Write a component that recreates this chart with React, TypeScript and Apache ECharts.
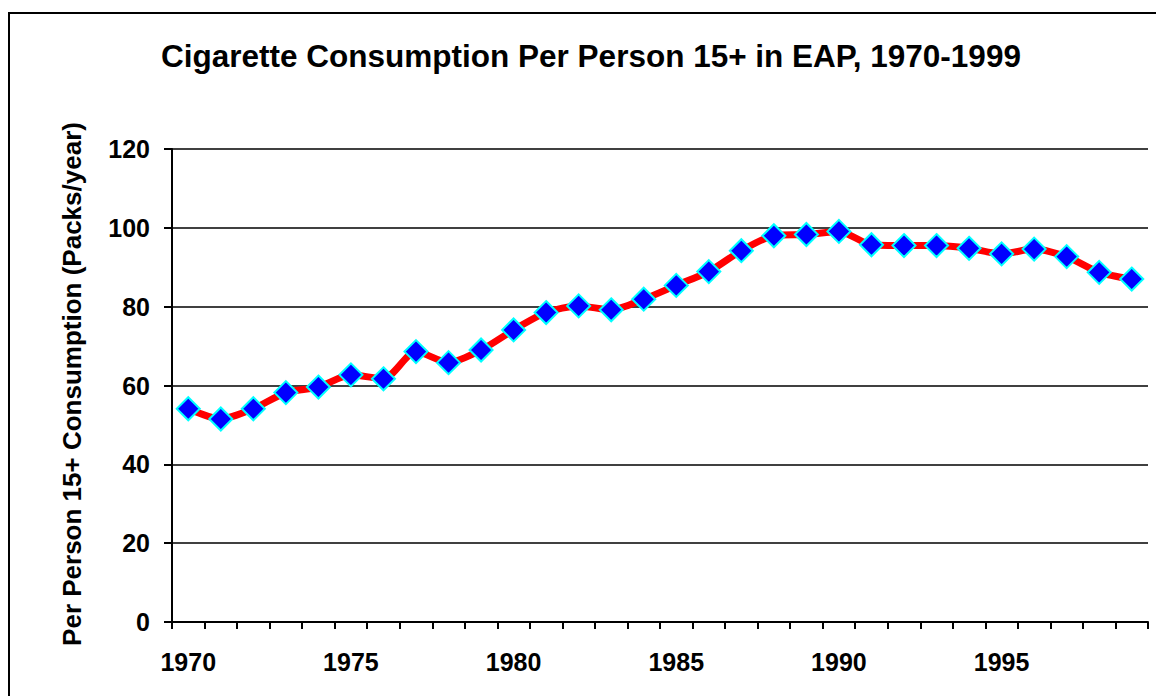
import React, { useEffect, useRef } from "react";
import * as echarts from "echarts";

const years: string[] = [
  "1970","1971","1972","1973","1974","1975","1976","1977","1978","1979",
  "1980","1981","1982","1983","1984","1985","1986","1987","1988","1989",
  "1990","1991","1992","1993","1994","1995","1996","1997","1998","1999",
];
const consumption: number[] = [
  54.1, 51.5, 54.1, 58.2, 59.6, 62.7, 61.7, 68.6, 65.8, 69.0,
  74.1, 78.5, 80.2, 79.2, 81.9, 85.4, 88.9, 94.2, 98.0, 98.3,
  99.1, 95.7, 95.5, 95.5, 94.8, 93.4, 94.6, 92.7, 88.7, 87.0,
];
const titleText = "Cigarette Consumption Per Person 15+ in EAP, 1970-1999";
const yAxisTitle = "Per Person 15+ Consumption (Packs/year)";

const FONT = "'Liberation Sans', Arial, sans-serif";

export default function App() {
  const ref = useRef<HTMLDivElement>(null);
  useEffect(() => {
    if (!ref.current) return;
    const chart = echarts.init(ref.current, null, { renderer: "svg" });
    chart.setOption({
      animation: false,
      backgroundColor: "#ffffff",
      graphic: [
        {
          type: "rect",
          shape: { x: 9, y: 13, width: 1200, height: 720 },
          style: { fill: "none", stroke: "#000", lineWidth: 2 },
          silent: true,
        },
        {
          type: "text",
          x: 591,
          y: 56,
          style: {
            text: titleText,
            font: `bold 31.5px ${FONT}`,
            fill: "#000",
            textAlign: "center",
            textVerticalAlign: "middle",
          },
        },
        {
          type: "text",
          x: 72,
          y: 384,
          rotation: Math.PI / 2,
          style: {
            text: yAxisTitle,
            font: `bold 26px ${FONT}`,
            fill: "#000",
            textAlign: "center",
            textVerticalAlign: "middle",
          },
        },
      ],
      grid: { left: 172, right: 8, top: 149, bottom: 74, containLabel: false },
      xAxis: {
        type: "category",
        data: years,
        boundaryGap: true,
        axisLine: { lineStyle: { color: "#000", width: 2 } },
        axisTick: { show: true, interval: 0, length: 7, lineStyle: { color: "#000", width: 2 } },
        axisLabel: {
          interval: 4,
          margin: 27,
          color: "#000",
          fontFamily: FONT,
          fontWeight: "bold",
          fontSize: 25,
        },
        splitLine: { show: false },
      },
      yAxis: {
        type: "value",
        min: 0,
        max: 120,
        interval: 20,
        axisLine: { show: true, lineStyle: { color: "#000", width: 2 } },
        axisTick: { show: true, length: 8, lineStyle: { color: "#000", width: 2 } },
        axisLabel: {
          margin: 22,
          color: "#000",
          fontFamily: FONT,
          fontWeight: "bold",
          fontSize: 25,
        },
        splitLine: { show: true, lineStyle: { color: "#000", width: 1.5 } },
      },
      series: [
        {
          type: "line",
          data: consumption,
          smooth: 0.25,
          showAllSymbol: true,
          lineStyle: { color: "#ff0000", width: 7 },
          symbol: "diamond",
          symbolSize: 23,
          itemStyle: { color: "#0000ff", borderColor: "#00ffff", borderWidth: 2 },
          z: 3,
        },
      ],
    });
    return () => chart.dispose();
  }, []);
  return (
    <div
      ref={ref}
      style={{ position: "absolute", left: 0, top: 0, width: 1156, height: 696, background: "#fff" }}
    />
  );
}
